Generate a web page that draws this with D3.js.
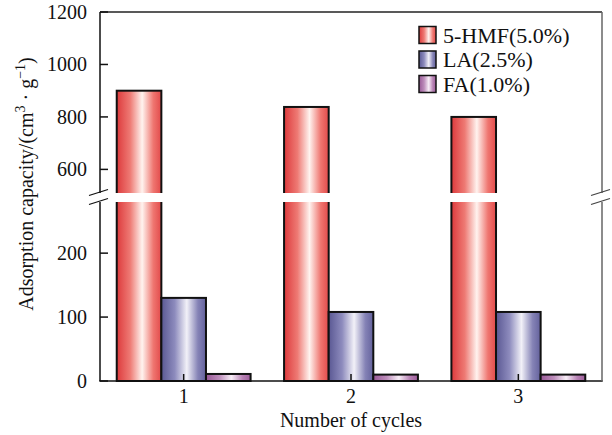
<!DOCTYPE html>
<html>
<head>
<meta charset="utf-8">
<script src="https://cdn.jsdelivr.net/npm/d3@7/dist/d3.min.js"></script>
<style>
  html, body { margin: 0; padding: 0; background: #fff; }
  svg { display: block; }
  text { font-family: "Liberation Serif", "Times New Roman", serif; fill: #111; }
</style>
</head>
<body>
<svg id="chart" width="612" height="435"></svg>
<script>
// ---- data ----
const categories = ["1", "2", "3"];
const seriesNames = ["5-HMF(5.0%)", "LA(2.5%)", "FA(1.0%)"];
const hmfValues = [900, 838, 800];
const laValues = [130, 108, 108];
const faValues = [11, 10, 10];
const lowerTicks = [0, 100, 200];
const upperTicks = [600, 800, 1000, 1200];
const lowerDomain = [0, 280];
const upperDomain = [510, 1200];

// ---- layout ----
const svg = d3.select("#chart");
const L = 100, R = 602, T = 12, B = 381;
const gapTop = 193, gapBottom = 202;

const x0 = d3.scaleBand().domain(categories).range([L, R]).paddingInner(0.2).paddingOuter(0.1);
const x1 = d3.scaleBand().domain(seriesNames).range([0, x0.bandwidth()]);
const yLow = d3.scaleLinear().domain(lowerDomain).range([B, gapBottom]);
const yHigh = d3.scaleLinear().domain(upperDomain).range([gapTop, T]);
const y = v => v <= lowerDomain[1] ? yLow(v) : yHigh(v);

const seriesValues = [hmfValues, laValues, faValues];
const gradDefs = [
  { id: "gRed", stops: [["0%", "#dd3a3c"], ["30%", "#ee7a74"], ["57%", "#fff3ef"], ["82%", "#ef7670"], ["100%", "#e24a4a"]] },
  { id: "gBlue", stops: [["0%", "#5a5893"], ["30%", "#8d8bbd"], ["57%", "#f2f1f8"], ["82%", "#8583b6"], ["100%", "#63619c"]] },
  { id: "gPurple", stops: [["0%", "#985896"], ["30%", "#bd8dbb"], ["57%", "#f8eef7"], ["82%", "#b781b4"], ["100%", "#9d5d9a"]] }
];

const defs = svg.append("defs");
gradDefs.forEach(g => {
  const lg = defs.append("linearGradient").attr("id", g.id).attr("x1", 0).attr("x2", 1).attr("y1", 0).attr("y2", 0);
  g.stops.forEach(s => lg.append("stop").attr("offset", s[0]).attr("stop-color", s[1]));
});

// ---- bars ----
const rows = [];
categories.forEach((c, i) => seriesNames.forEach((s, j) => rows.push({ c, s, j, v: seriesValues[j][i] })));

svg.append("g").selectAll("rect").data(rows).join("rect")
  .attr("x", d => x0(d.c) + x1(d.s))
  .attr("width", x1.bandwidth())
  .attr("y", d => y(d.v))
  .attr("height", d => B - y(d.v))
  .attr("fill", d => `url(#${gradDefs[d.j].id})`)
  .attr("stroke", "#111")
  .attr("stroke-width", 2);

// white break band across tall bars
svg.append("g").selectAll("rect").data(rows.filter(d => d.v > lowerDomain[1])).join("rect")
  .attr("x", d => x0(d.c) + x1(d.s) - 3)
  .attr("width", x1.bandwidth() + 6)
  .attr("y", gapTop)
  .attr("height", gapBottom - gapTop)
  .attr("fill", "#fff");

// ---- axes ----
const axis = svg.append("g").attr("stroke", "#111").attr("stroke-width", 1.5).attr("fill", "none");
// left axis segments
axis.append("line").attr("x1", L).attr("x2", L).attr("y1", T).attr("y2", gapTop);
axis.append("line").attr("x1", L).attr("x2", L).attr("y1", gapBottom).attr("y2", B);
// right axis segments
const rightAxis = svg.append("g").attr("stroke", "#666").attr("stroke-width", 1.5);
rightAxis.append("line").attr("x1", R).attr("x2", R).attr("y1", T).attr("y2", gapTop);
rightAxis.append("line").attr("x1", R).attr("x2", R).attr("y1", gapBottom).attr("y2", B);
// top and bottom
axis.append("line").attr("x1", L).attr("x2", R).attr("y1", T).attr("y2", T).attr("stroke", "#222");
axis.append("line").attr("x1", L - 0.75).attr("x2", R + 0.75).attr("y1", B).attr("y2", B);

// break marks
[L, R].forEach((xp, k) => {
  const g = svg.append("g").attr("stroke", k === 0 ? "#111" : "#444").attr("stroke-width", 1.3);
  [gapTop, gapBottom].forEach(gy => {
    g.append("line").attr("x1", xp - 11).attr("y1", gy + 2.5).attr("x2", xp + 8).attr("y2", gy - 3.5);
  });
});

// y ticks
const yTickData = lowerTicks.map(v => ({ v, y: yLow(v) })).concat(upperTicks.map(v => ({ v, y: yHigh(v) })));
const yt = svg.append("g");
yt.selectAll("line").data(yTickData).join("line")
  .attr("x1", L).attr("x2", L + 8).attr("y1", d => d.y).attr("y2", d => d.y)
  .attr("stroke", "#111").attr("stroke-width", 1.5);
yt.selectAll("text").data(yTickData).join("text")
  .attr("x", L - 13).attr("y", d => d.y).attr("dy", "0.34em")
  .attr("text-anchor", "end").attr("font-size", 20)
  .text(d => d.v);

// x ticks
const xt = svg.append("g");
xt.selectAll("line").data(categories).join("line")
  .attr("x1", d => x0(d) + x0.bandwidth() / 2).attr("x2", d => x0(d) + x0.bandwidth() / 2)
  .attr("y1", B).attr("y2", B - 7).attr("stroke", "#111").attr("stroke-width", 1.5);
xt.selectAll("text").data(categories).join("text")
  .attr("x", d => x0(d) + x0.bandwidth() / 2).attr("y", 403)
  .attr("text-anchor", "middle").attr("font-size", 20)
  .text(d => d);

// axis titles
svg.append("text").attr("x", (L + R) / 2).attr("y", 427).attr("text-anchor", "middle")
  .attr("font-size", 20).text("Number of cycles");

const yTitle = svg.append("text").attr("transform", "translate(33,184) rotate(-90)")
  .attr("text-anchor", "middle").attr("font-size", 20);
yTitle.append("tspan").text("Adsorption capacity/(cm");
yTitle.append("tspan").attr("font-size", 14).attr("dy", -8).text("3");
yTitle.append("tspan").attr("dy", 8).text(" · g");
yTitle.append("tspan").attr("font-size", 14).attr("dy", -8).text("−1");
yTitle.append("tspan").attr("dy", 8).text(")");

// legend
const lg = svg.append("g");
const legendY = [35, 59.5, 84];
seriesNames.forEach((s, j) => {
  lg.append("rect").attr("x", 419).attr("y", legendY[j] - 8.5).attr("width", 17).attr("height", 17)
    .attr("fill", `url(#${gradDefs[j].id})`).attr("stroke", "#111").attr("stroke-width", 1.5);
  lg.append("text").attr("x", 443).attr("y", legendY[j]).attr("dy", "0.36em")
    .attr("font-size", 22).text(s);
});
</script>
</body>
</html>
